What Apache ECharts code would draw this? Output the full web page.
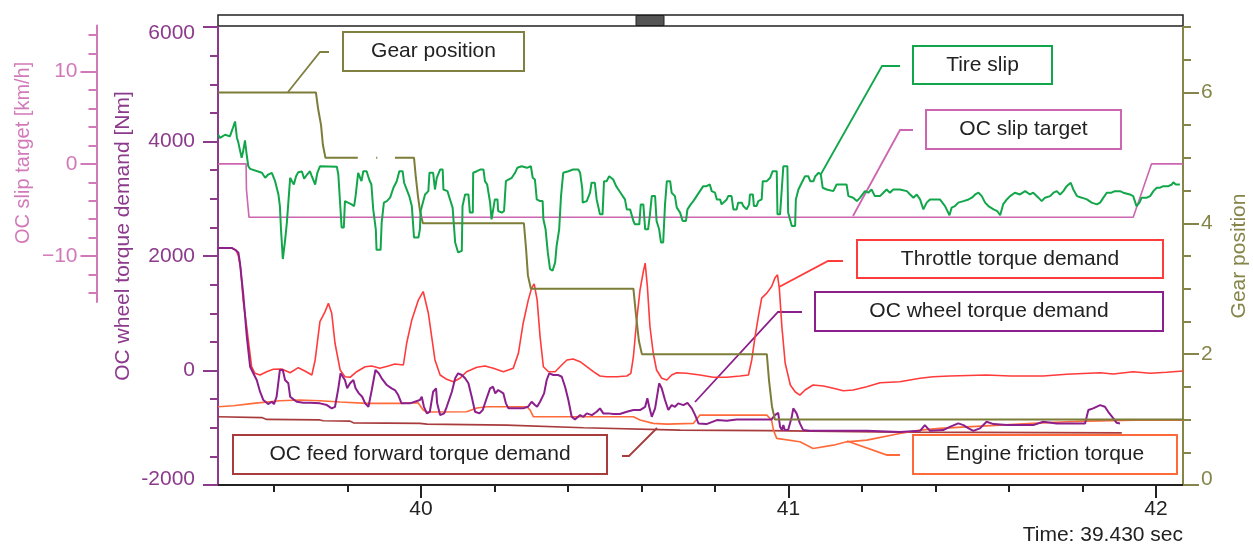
<!DOCTYPE html>
<html>
<head>
<meta charset="utf-8">
<title>OC torque / slip trace</title>
<script src="https://cdn.jsdelivr.net/npm/echarts@6/dist/echarts.min.js"></script>
<style>
  html, body { margin: 0; padding: 0; background: #fff; }
  #chart { width: 1253px; height: 546px; }
</style>
</head>
<body>
<div id="chart"></div>
<script>
// ---- time axis [s] ----
const timeStart = 39.4476;
const timeEnd = 42.0735;
const timeMajor = [40, 41, 42];
const timeMinor = [39.6, 39.8, 40.2, 40.4, 40.6, 40.8, 41.2, 41.4, 41.6, 41.8];

// ---- other axes ----
const gearMajor = [0, 2, 4, 6];
const gearMinor = [0.5, 1, 1.5, 2.5, 3, 3.5, 4.5, 5, 5.5, 6.5, 7];
const slipMajor = [-10, 0, 10];
const slipMinor = [-14, -12, -8, -6, -4, -2, 2, 4, 6, 8, 12, 14];

// ---- signals: [time s, value] ----
// gear position (right axis)
const gearPos = [[39.4476,6],[39.714,6],[39.720,5.75],[39.728,5.5],[39.733,5.2],[39.740,5],[39.828,5],[39.85,null],
  [39.878,5],[39.881,5],[39.9,null],[39.929,5],[39.981,5],[39.986,4.7],[39.992,4.4],[39.997,4.2],[40.005,4],
  [40.280,4],[40.286,3.6],[40.291,3.2],[40.299,3],[40.578,3],[40.585,2.6],[40.593,2.2],[40.601,2],
  [40.941,2],[40.947,1.6],[40.955,1.2],[40.963,1],[42.0735,1]];

// OC slip target [km/h]
const slipTarget = [[39.4476,0],[39.524,0],[39.525,-2.8],[39.532,-5.8],[41.938,-5.8],[41.988,0],[42.0735,0]];

// tire slip [km/h]
const tireSlip = [[39.448,3.16],[39.453,2.81],[39.467,3.16],[39.480,2.98],[39.488,3.89],[39.494,4.60],[39.499,2.84],[39.503,2.30],
  [39.507,1.54],[39.512,0.65],[39.516,1.36],[39.521,2.55],[39.525,1.19],[39.530,-0.26],[39.535,-0.54],[39.567,-0.97],[39.576,-1.51],
  [39.584,-1.16],[39.594,-0.97],[39.603,-1.88],[39.612,-3.32],[39.616,-4.58],[39.619,-7.10],[39.624,-10.33],[39.630,-8.36],
  [39.635,-6.37],[39.639,-4.21],[39.644,-1.51],[39.649,-1.88],[39.654,-2.24],[39.660,-1.34],[39.666,-0.91],[39.676,-0.83],
  [39.682,-1.62],[39.690,-1.16],[39.698,-0.80],[39.703,-1.37],[39.712,-2.24],[39.718,-0.97],[39.725,-0.26],[39.771,-0.32],
  [39.775,-1.16],[39.784,-6.91],[39.790,-6.91],[39.793,-4.04],[39.811,-4.40],[39.818,-4.58],[39.822,-3.50],[39.829,-0.97],
  [39.838,-1.88],[39.843,-0.80],[39.852,-0.80],[39.859,-1.70],[39.865,-2.24],[39.870,-4.94],[39.877,-7.10],[39.879,-9.33],
  [39.890,-9.33],[39.893,-6.37],[39.899,-4.21],[39.907,-4.04],[39.916,-3.67],[39.925,-2.59],[39.934,-1.88],[39.941,-0.80],
  [39.950,-0.80],[39.954,-2.05],[39.961,-2.78],[39.968,-3.50],[39.975,-4.58],[39.981,-7.99],[39.993,-7.99],[39.997,-7.10],
  [39.999,-5.12],[40.011,-3.32],[40.020,-2.96],[40.023,-0.97],[40.033,-0.97],[40.038,-2.78],[40.043,-1.51],[40.052,-0.62],
  [40.059,-0.62],[40.061,-2.78],[40.072,-2.96],[40.079,-3.86],[40.086,-4.75],[40.093,-8.53],[40.101,-9.61],[40.111,-9.44],
  [40.113,-4.58],[40.120,-3.32],[40.129,-3.32],[40.133,-5.29],[40.141,-5.29],[40.142,-0.97],[40.152,-0.80],[40.161,-0.62],
  [40.170,-0.62],[40.174,-1.88],[40.180,-2.24],[40.188,-4.21],[40.192,-6.02],[40.197,-6.20],[40.201,-3.86],[40.208,-3.86],
  [40.210,-5.12],[40.220,-5.29],[40.226,-5.12],[40.231,-1.88],[40.238,-1.70],[40.247,-1.51],[40.256,-0.97],[40.262,-0.43],
  [40.274,-0.26],[40.288,-0.43],[40.299,-0.26],[40.304,-1.51],[40.310,-1.70],[40.315,-3.86],[40.324,-4.04],[40.331,-4.04],
  [40.333,-6.02],[40.339,-7.10],[40.345,-9.61],[40.351,-11.40],[40.358,-11.60],[40.365,-10.69],[40.369,-8.90],[40.376,-7.10],
  [40.381,-3.50],[40.387,-0.97],[40.401,-0.80],[40.414,-0.62],[40.428,-0.62],[40.433,-0.97],[40.439,-2.78],[40.440,-4.21],
  [40.451,-4.04],[40.460,-3.13],[40.464,-2.05],[40.473,-2.05],[40.478,-3.86],[40.487,-5.48],[40.494,-5.48],[40.498,-1.88],
  [40.505,-1.88],[40.512,-1.34],[40.523,-1.70],[40.531,-2.42],[40.537,-2.78],[40.546,-3.32],[40.555,-3.86],[40.560,-4.94],
  [40.569,-4.94],[40.578,-6.20],[40.582,-6.56],[40.594,-6.56],[40.598,-4.40],[40.605,-4.40],[40.610,-7.10],[40.618,-7.10],
  [40.623,-5.48],[40.628,-3.50],[40.637,-3.50],[40.641,-6.20],[40.648,-7.10],[40.653,-8.53],[40.659,-8.53],[40.664,-4.40],
  [40.669,-1.88],[40.678,-1.88],[40.682,-3.13],[40.691,-3.50],[40.696,-4.75],[40.705,-5.29],[40.712,-6.20],[40.721,-6.20],
  [40.725,-4.94],[40.734,-4.40],[40.741,-4.04],[40.750,-3.50],[40.759,-2.96],[40.768,-2.42],[40.777,-2.42],[40.786,-2.24],
  [40.791,-2.96],[40.800,-3.13],[40.805,-3.86],[40.814,-3.86],[40.818,-4.40],[40.832,-3.86],[40.836,-3.50],[40.845,-3.50],
  [40.850,-4.94],[40.859,-4.94],[40.863,-4.21],[40.873,-4.21],[40.877,-4.58],[40.886,-4.94],[40.893,-4.40],[40.895,-3.32],
  [40.903,-3.32],[40.906,-4.58],[40.913,-4.58],[40.918,-4.04],[40.927,-3.86],[40.930,-1.88],[40.941,-1.88],[40.950,-1.51],
  [40.957,-0.80],[40.968,-0.80],[40.970,-5.48],[40.977,-5.48],[40.986,-0.26],[40.997,-0.26],[40.999,-5.29],[41.009,-6.74],
  [41.018,-6.74],[41.020,-3.86],[41.027,-2.78],[41.036,-2.05],[41.045,-1.34],[41.054,-1.34],[41.059,-1.88],[41.068,-1.88],
  [41.073,-1.34],[41.082,-0.97],[41.088,-1.16],[41.093,-2.59],[41.104,-2.78],[41.122,-2.96],[41.131,-2.24],[41.158,-2.24],
  [41.163,-3.50],[41.176,-3.67],[41.186,-4.04],[41.195,-3.67],[41.208,-2.96],[41.217,-3.13],[41.226,-2.78],[41.235,-3.50],
  [41.249,-3.50],[41.258,-3.13],[41.267,-2.78],[41.276,-3.13],[41.285,-2.78],[41.303,-2.78],[41.322,-2.96],[41.331,-3.32],
  [41.340,-3.67],[41.349,-3.32],[41.358,-3.86],[41.367,-4.94],[41.376,-4.21],[41.385,-3.86],[41.412,-3.86],[41.426,-4.58],
  [41.438,-5.58],[41.444,-4.75],[41.453,-4.58],[41.462,-4.21],[41.476,-4.04],[41.490,-3.86],[41.499,-3.67],[41.508,-3.32],
  [41.517,-3.13],[41.526,-3.50],[41.535,-4.21],[41.544,-4.58],[41.558,-4.94],[41.568,-5.12],[41.576,-5.58],[41.584,-4.40],
  [41.594,-3.86],[41.603,-3.50],[41.616,-3.13],[41.630,-3.32],[41.644,-2.96],[41.657,-3.32],[41.666,-3.13],[41.680,-3.67],
  [41.689,-4.04],[41.698,-3.67],[41.712,-3.50],[41.721,-3.13],[41.730,-2.96],[41.739,-3.32],[41.748,-2.96],[41.757,-2.42],
  [41.768,-2.05],[41.775,-2.78],[41.785,-3.50],[41.798,-3.67],[41.812,-3.86],[41.825,-4.21],[41.839,-4.40],[41.848,-4.21],
  [41.857,-3.67],[41.866,-3.13],[41.879,-3.13],[41.888,-2.96],[41.902,-2.96],[41.911,-3.13],[41.929,-3.32],[41.938,-3.50],
  [41.947,-4.58],[41.955,-4.21],[41.961,-3.67],[41.975,-3.67],[41.984,-3.50],[41.993,-2.96],[42.002,-2.59],[42.011,-2.59],
  [42.020,-2.42],[42.034,-2.42],[42.043,-2.24],[42.047,-1.99],[42.054,-2.24],[42.065,-2.24]];

// throttle torque demand [Nm]
const throttleTq = [[39.448,2139],[39.486,2135],[39.497,2100],[39.503,2004],[39.509,1794],[39.516,1234],[39.525,796],[39.530,534],
  [39.539,66],[39.548,-49],[39.562,-79],[39.580,-21],[39.598,21],[39.621,26],[39.644,-39],[39.666,49],[39.684,-9],[39.703,-79],
  [39.712,184],[39.725,854],[39.739,1029],[39.748,1176],[39.757,1001],[39.766,476],[39.780,9],[39.793,-109],[39.807,-119],
  [39.825,-21],[39.848,66],[39.866,79],[39.888,39],[39.911,79],[39.929,114],[39.952,96],[39.961,476],[39.975,884],[39.993,1234],
  [40.006,1379],[40.011,1409],[40.020,1001],[40.029,592],[40.038,184],[40.052,-79],[40.070,-154],[40.088,-196],[40.106,-136],
  [40.124,-21],[40.152,56],[40.174,79],[40.197,39],[40.224,-21],[40.251,39],[40.265,301],[40.278,826],[40.292,1234],[40.301,1439],
  [40.308,1514],[40.316,1234],[40.324,592],[40.333,66],[40.347,-21],[40.365,-21],[40.383,96],[40.397,184],[40.414,201],[40.433,154],
  [40.451,66],[40.469,-21],[40.487,-96],[40.505,-109],[40.533,-109],[40.560,-96],[40.571,-49],[40.578,241],[40.587,884],[40.596,1409],
  [40.605,1729],[40.610,1876],[40.616,1466],[40.623,766],[40.632,301],[40.641,9],[40.655,-136],[40.669,-166],[40.682,-79],[40.696,-39],
  [40.723,-49],[40.759,-79],[40.795,-119],[40.832,-119],[40.868,-96],[40.891,-79],[40.900,184],[40.909,592],[40.918,941],[40.927,1264],
  [40.941,1351],[40.954,1467],[40.963,1614],[40.970,1671],[40.975,1439],[40.982,767],[40.991,126],[41.005,-254],[41.018,-371],
  [41.031,-429],[41.045,-341],[41.067,-254],[41.095,-271],[41.122,-311],[41.149,-354],[41.176,-341],[41.213,-284],[41.249,-214],
  [41.303,-196],[41.358,-136],[41.394,-109],[41.439,-96],[41.539,-79],[41.603,-96],[41.693,-96],[41.757,-66],[41.848,-39],
  [41.884,-61],[41.938,-21],[41.984,-49],[42.029,-31],[42.0735,-9]];

// OC wheel torque demand [Nm]
const wheelTq = [[39.448,2139],[39.486,2139],[39.494,2109],[39.503,2062],[39.507,1899],[39.516,1351],[39.526,592],[39.535,66],
  [39.546,-79],[39.553,-166],[39.562,-371],[39.571,-516],[39.584,-586],[39.594,-546],[39.600,-586],[39.607,-459],[39.616,9],
  [39.624,9],[39.630,-166],[39.639,-224],[39.644,-459],[39.653,-504],[39.662,-546],[39.680,-564],[39.698,-564],[39.725,-574],
  [39.744,-604],[39.757,-661],[39.766,-634],[39.775,-311],[39.781,-49],[39.793,-166],[39.799,-311],[39.807,-224],[39.816,-166],
  [39.822,-311],[39.831,-399],[39.840,-459],[39.848,-574],[39.857,-634],[39.866,-341],[39.876,9],[39.885,-49],[39.893,-136],
  [39.907,-254],[39.920,-311],[39.929,-341],[39.938,-429],[39.947,-574],[39.970,-574],[39.997,-516],[40.002,-459],[40.008,-634],
  [40.016,-749],[40.024,-721],[40.033,-371],[40.041,-311],[40.044,-574],[40.052,-779],[40.063,-749],[40.070,-634],[40.084,-371],
  [40.093,-136],[40.101,-49],[40.111,-79],[40.120,-136],[40.129,-224],[40.138,-459],[40.147,-721],[40.159,-749],[40.168,-691],
  [40.177,-516],[40.188,-311],[40.196,-284],[40.202,-399],[40.210,-341],[40.224,-399],[40.231,-574],[40.238,-661],[40.256,-661],
  [40.278,-661],[40.291,-634],[40.301,-546],[40.310,-604],[40.316,-634],[40.324,-546],[40.335,-399],[40.342,-166],[40.349,-49],
  [40.360,-79],[40.374,-79],[40.383,-109],[40.392,-284],[40.401,-516],[40.410,-809],[40.419,-854],[40.433,-779],[40.442,-809],
  [40.451,-749],[40.465,-779],[40.478,-721],[40.487,-661],[40.496,-749],[40.510,-749],[40.523,-761],[40.541,-761],[40.560,-721],
  [40.578,-691],[40.596,-691],[40.610,-634],[40.616,-486],[40.621,-634],[40.628,-809],[40.637,-661],[40.648,-224],[40.655,-311],
  [40.664,-516],[40.673,-691],[40.682,-604],[40.691,-634],[40.700,-574],[40.714,-604],[40.725,-564],[40.737,-661],[40.746,-779],
  [40.755,-924],[40.777,-936],[40.805,-866],[40.832,-879],[40.859,-854],[40.886,-854],[40.913,-854],[40.954,-854],[40.963,-779],
  [40.972,-739],[40.977,-984],[40.982,-1041],[40.986,-954],[40.990,-1041],[40.999,-1041],[41.009,-809],[41.013,-661],[41.022,-749],
  [41.031,-924],[41.040,-1041],[41.058,-1054],[41.122,-1054],[41.213,-1054],[41.303,-1076],[41.358,-1054],[41.371,-954],
  [41.385,-1054],[41.421,-1041],[41.439,-984],[41.462,-924],[41.476,-954],[41.490,-1011],[41.503,-1054],[41.521,-1011],
  [41.539,-896],[41.558,-936],[41.594,-954],[41.630,-954],[41.666,-954],[41.693,-896],[41.730,-924],[41.766,-924],[41.807,-924],
  [41.816,-691],[41.829,-661],[41.848,-604],[41.861,-634],[41.870,-721],[41.884,-836],[41.893,-914],[41.902,-924]];

// engine friction torque [Nm]
const frictionTq = [[39.448,-634],[39.489,-616],[39.544,-574],[39.616,-529],[39.671,-516],[39.725,-529],[39.780,-551],[39.852,-574],
  [39.943,-574],[39.992,-564],[40.006,-691],[40.016,-726],[40.124,-721],[40.152,-656],[40.179,-634],[40.288,-634],[40.297,-691],
  [40.306,-809],[40.578,-809],[40.596,-866],[40.632,-924],[40.669,-936],[40.741,-924],[40.759,-779],[40.941,-779],[40.954,-866],
  [40.959,-1041],[40.968,-1186],[41.031,-1246],[41.067,-1361],[41.122,-1304],[41.158,-1246],[41.213,-1216],[41.303,-1099],
  [41.358,-1041],[41.412,-1011],[41.485,-984],[41.576,-954],[41.666,-924],[41.757,-896],[41.811,-884],[41.938,-866],[42.0735,-866]];

// OC feed forward torque demand [Nm]
const feedFwdTq = [[39.448,-809],[39.567,-823],[39.580,-854],[39.725,-863],[39.734,-879],[39.807,-884],[39.816,-914],[39.997,-924],
  [40.016,-936],[40.233,-954],[40.442,-1001],[40.705,-1041],[40.941,-1050],[41.303,-1076],[41.907,-1089]];

// ---- look ----
const font = '"Liberation Sans", Arial, Helvetica, sans-serif';
const torqueColor = '#8c3a8c';
const gearColor = '#85854a';
const slipColor = '#d27ab9';
const inkColor = '#222';

// annotation boxes with leader lines (pixel layout)
const notes = [
  { text: 'Gear position', color: '#808040', box: [343, 32, 181, 39], leader: [[288, 92], [320, 52], [329, 52]] },
  { text: 'Tire slip', color: '#12a64a', box: [913, 46, 139, 38], leader: [[821, 174], [882, 66], [900, 66]] },
  { text: 'OC slip target', color: '#cc66b0', box: [926, 110, 195, 39], leader: [[853, 216], [900, 130], [913, 130]] },
  { text: 'Throttle torque demand', color: '#ff3b3b', box: [857, 240, 306, 38], leader: [[779, 287], [828, 261], [843, 261]] },
  { text: 'OC wheel torque demand', color: '#8b1f8b', box: [815, 292, 348, 39], leader: [[695, 402], [778, 312], [802, 312]] },
  { text: 'OC feed forward torque demand', color: '#a83c3c', box: [233, 435, 374, 39], leader: [[657, 428], [629, 456], [622, 456]] },
  { text: 'Engine friction torque', color: '#ff6a3a', box: [913, 435, 264, 39], leader: [[847, 441], [887, 455], [900, 455]] }
];

const graphics = [
  // scroll bar above the plot
  { type: 'rect', shape: { x: 218, y: 15, width: 965, height: 11 }, style: { fill: '#fff', stroke: inkColor, lineWidth: 1.5 } },
  { type: 'rect', shape: { x: 636, y: 15.5, width: 28, height: 10 }, style: { fill: '#555', stroke: inkColor, lineWidth: 1 } },
  { type: 'text', x: 1183, y: 535, style: { text: 'Time: 39.430 sec', fill: inkColor, fontSize: 21, fontFamily: font, align: 'right', verticalAlign: 'middle' } }
];
notes.forEach(n => {
  graphics.push({ type: 'polyline', shape: { points: n.leader }, style: { stroke: n.color, lineWidth: 1.8, fill: 'none' } });
  graphics.push({ type: 'rect', shape: { x: n.box[0], y: n.box[1], width: n.box[2], height: n.box[3] },
    style: { fill: '#fff', stroke: n.color, lineWidth: 2 } });
  graphics.push({ type: 'text', x: n.box[0] + n.box[2] / 2, y: n.box[1] + n.box[3] / 2,
    style: { text: n.text, fill: inkColor, fontSize: 21, fontFamily: font, align: 'center', verticalAlign: 'middle' } });
});

function trace(name, data, color, width, xi, yi, z) {
  return {
    name: name, type: 'line', data: data, xAxisIndex: xi, yAxisIndex: yi,
    symbol: 'none', connectNulls: false, z: z,
    lineStyle: { color: color, width: width }, itemStyle: { color: color }
  };
}

const chart = echarts.init(document.getElementById('chart'));
chart.setOption({
  animation: false,
  backgroundColor: '#fff',
  textStyle: { fontFamily: font },
  grid: [
    { left: 218, right: 70, top: 27, bottom: 61, outerBoundsMode: 'none' },
    { left: 218, right: 70, top: 25.6, height: 276.5, outerBoundsMode: 'none' }   // slip km/h scale, upper part only
  ],
  xAxis: [
    {
      type: 'value', gridIndex: 0, position: 'bottom', min: timeStart, max: timeEnd,
      axisLine: { show: true, onZero: false, lineStyle: { color: inkColor, width: 2 } },
      axisTick: { show: true, length: 13, customValues: timeMajor, lineStyle: { color: inkColor, width: 2 } },
      axisLabel: { customValues: timeMajor, color: inkColor, fontSize: 21, margin: 14, fontFamily: font },
      splitLine: { show: false }
    },
    {
      type: 'value', gridIndex: 0, position: 'bottom', min: timeStart, max: timeEnd,
      axisLine: { show: false, onZero: false },
      axisTick: { show: true, length: 7, customValues: timeMinor, lineStyle: { color: inkColor, width: 2 } },
      axisLabel: { show: false }, splitLine: { show: false }
    },
    { type: 'value', gridIndex: 1, min: timeStart, max: timeEnd, show: false }
  ],
  yAxis: [
    {
      type: 'value', gridIndex: 0, position: 'left', min: -2000, max: 6000, interval: 2000,
      name: 'OC wheel torque demand [Nm]', nameLocation: 'middle', nameGap: 84, nameMoveOverlap: false,
      nameTextStyle: { color: torqueColor, fontSize: 21, fontFamily: font, padding: [0, 0, 0, 40] },
      axisLine: { show: true, onZero: false, lineStyle: { color: torqueColor, width: 2 } },
      axisTick: { show: true, length: 15, lineStyle: { color: torqueColor, width: 2 } },
      minorTick: { show: true, splitNumber: 4, length: 8, lineStyle: { color: torqueColor, width: 2 } },
      axisLabel: {
        color: torqueColor, fontSize: 21, margin: 23, fontFamily: font,
        formatter: v => v === 6000 ? '{lo|' + v + '}' : (v === -2000 ? '{hi|' + v + '}' : String(v)),
        rich: { lo: { padding: [12, 0, 0, 0], color: torqueColor, fontSize: 21 }, hi: { padding: [0, 0, 12, 0], color: torqueColor, fontSize: 21 } }
      },
      splitLine: { show: false }, minorSplitLine: { show: false }
    },
    {
      type: 'value', gridIndex: 0, position: 'right', min: 0, max: 7,
      name: 'Gear position', nameLocation: 'middle', nameGap: 46, nameMoveOverlap: false,
      nameTextStyle: { color: gearColor, fontSize: 21, fontFamily: font },
      axisLine: { show: true, onZero: false, lineStyle: { color: gearColor, width: 2 } },
      axisTick: { show: true, length: 16, customValues: gearMajor, lineStyle: { color: gearColor, width: 2 } },
      axisLabel: {
        customValues: gearMajor, color: gearColor, fontSize: 21, margin: 18, fontFamily: font,
        formatter: v => v === 0 ? '{hi|0}' : String(v),
        rich: { hi: { padding: [0, 0, 12, 0], color: gearColor, fontSize: 21 } }
      },
      splitLine: { show: false }
    },
    {
      type: 'value', gridIndex: 0, position: 'right', min: 0, max: 7,
      axisLine: { show: false, onZero: false },
      axisTick: { show: true, length: 8, customValues: gearMinor, lineStyle: { color: gearColor, width: 2 } },
      axisLabel: { show: false }, splitLine: { show: false }
    },
    {
      type: 'value', gridIndex: 1, position: 'left', offset: 121.5, min: -15, max: 15,
      name: 'OC slip target [km/h]', nameLocation: 'middle', nameGap: 63, nameMoveOverlap: false,
      nameTextStyle: { color: slipColor, fontSize: 20, fontFamily: font, padding: [0, 0, 0, 22] },
      axisLine: { show: true, onZero: false, lineStyle: { color: slipColor, width: 2 } },
      axisTick: { show: true, length: 16, customValues: slipMajor, lineStyle: { color: slipColor, width: 2 } },
      axisLabel: {
        customValues: slipMajor, color: slipColor, fontSize: 21, margin: 19, fontFamily: font,
        formatter: v => v < 0 ? '\u2212' + Math.abs(v) : String(v)
      },
      splitLine: { show: false }
    },
    {
      type: 'value', gridIndex: 1, position: 'left', offset: 121.5, min: -15, max: 15,
      axisLine: { show: false, onZero: false },
      axisTick: { show: true, length: 8, customValues: slipMinor, lineStyle: { color: slipColor, width: 2 } },
      axisLabel: { show: false }, splitLine: { show: false }
    }
  ],
  graphic: graphics,
  series: [
    trace('OC feed forward torque demand', feedFwdTq, '#a83c3c', 1.6, 0, 0, 2),
    trace('Engine friction torque', frictionTq, '#ff6a3a', 1.6, 0, 0, 3),
    trace('Throttle torque demand', throttleTq, '#ff3b3b', 1.6, 0, 0, 4),
    trace('OC wheel torque demand', wheelTq, '#8b1f8b', 2, 0, 0, 5),
    trace('Gear position', gearPos, '#7d7d3a', 2, 0, 1, 6),
    trace('OC slip target', slipTarget, '#cc66b0', 1.6, 2, 3, 7),
    trace('Tire slip', tireSlip, '#12a64a', 2, 2, 3, 8)
  ]
});
</script>
</body>
</html>
